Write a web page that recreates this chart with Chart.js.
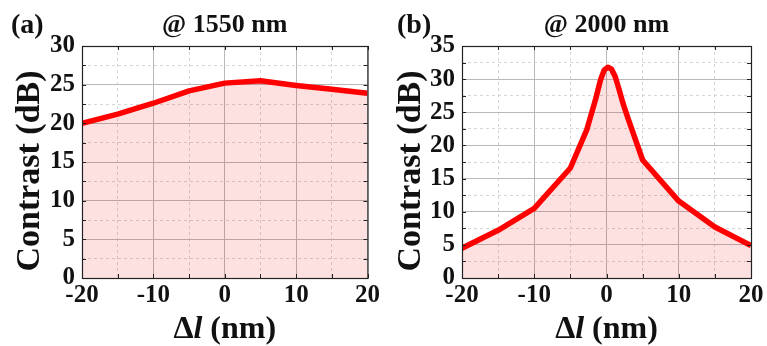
<!DOCTYPE html>
<html>
<head>
<meta charset="utf-8">
<script src="https://cdn.jsdelivr.net/npm/chart.js@4"></script>
<style>
  html, body { margin: 0; padding: 0; background: #fff; }
  .wrap { display: flex; width: 767px; height: 346px; }
  canvas { display: block; }
</style>
</head>
<body>
<div class="wrap">
  <canvas id="chartA" width="383" height="346"></canvas>
  <canvas id="chartB" width="384" height="346"></canvas>
</div>
<script>
// panel (a) @ 1550 nm
const deltaA = [-20, -15, -10, -5, 0, 5, 10, 15, 20];
const contrastA = [20.0, 21.2, 22.6, 24.2, 25.2, 25.5, 24.9, 24.4, 23.9];

// panel (b) @ 2000 nm
const deltaB = [-20, -15, -10, -5, -2.75, -1.5, -0.8, -0.3, 0.2, 0.7, 1.2, 1.7, 2.3, 3, 5, 10, 15, 20];
const contrastB = [4.5, 7.2, 10.5, 16.6, 22.3, 27.0, 30.0, 31.4, 31.8, 31.5, 30.4, 28.6, 26.3, 24.0, 17.8, 11.6, 7.7, 4.9];

const xTicks = [-20, -10, 0, 10, 20];
const yTicksA = [0, 5, 10, 15, 20, 25, 30];
const yTicksB = [0, 5, 10, 15, 20, 25, 30, 35];

const serif = "'Liberation Serif', 'Times New Roman', serif";

// frame, inner tick marks and the panel texts
const framePlugin = {
    id: 'frame',
    afterDatasetsDraw(chart, args, opts) {
        const ctx = chart.ctx;
        const a = chart.chartArea;
        const xs = chart.scales.x, ys = chart.scales.y;
        ctx.save();
        ctx.strokeStyle = '#222';
        ctx.lineWidth = 1;
        // inner ticks
        ctx.beginPath();
        xs.ticks.forEach(t => {
            const px = Math.round(xs.getPixelForValue(t.value)) + 0.5;
            ctx.moveTo(px, a.top); ctx.lineTo(px, a.top + 4);
            ctx.moveTo(px, a.bottom); ctx.lineTo(px, a.bottom - 4);
        });
        ys.ticks.forEach(t => {
            const py = Math.round(ys.getPixelForValue(t.value)) + 0.5;
            ctx.moveTo(a.left, py); ctx.lineTo(a.left + 4, py);
            ctx.moveTo(a.right, py); ctx.lineTo(a.right - 4, py);
        });
        ctx.stroke();
        ctx.lineWidth = 1.2;
        ctx.strokeRect(a.left + 0.5, a.top + 0.5, a.right - a.left, a.bottom - a.top);

        // panel letter and title
        ctx.fillStyle = '#111';
        ctx.textBaseline = 'alphabetic';
        ctx.textAlign = 'left';
        ctx.font = 'bold 28px ' + serif;
        ctx.fillText(opts.letter, opts.letterX, 33);
        ctx.textAlign = 'center';
        ctx.font = 'bold 26px ' + serif;
        const cx = (a.left + a.right) / 2;
        ctx.fillText(opts.title, cx, 32);

        // y axis title
        ctx.save();
        ctx.translate(opts.yTitleX, 171);
        ctx.rotate(-Math.PI / 2);
        ctx.textBaseline = 'middle';
        ctx.font = 'bold 34px ' + serif;
        ctx.fillText('Contrast (dB)', 0, 0);
        ctx.restore();

        // x axis title: Δl (nm), l in italic
        ctx.textAlign = 'left';
        const parts = [['Δ', 'bold 32px '], ['l', 'italic bold 32px '], [' (nm)', 'bold 32px ']];
        let w = 0;
        parts.forEach(p => { ctx.font = p[1] + serif; w += ctx.measureText(p[0]).width; });
        let x = cx - w / 2;
        parts.forEach(p => {
            ctx.font = p[1] + serif;
            ctx.fillText(p[0], x, 338);
            x += ctx.measureText(p[0]).width;
        });
        ctx.restore();
    }
};

function makePanel(id, xs, ys, yMax, yLabels, leftW, rightPad, letter, letterX, title, yTitleX) {
    return new Chart(document.getElementById(id), {
        type: 'line',
        data: {
            datasets: [{
                data: xs.map((v, i) => ({ x: v, y: ys[i] })),
                borderColor: '#ff0000',
                backgroundColor: 'rgba(240, 0, 0, 0.12)',
                borderWidth: 5.5,
                pointRadius: 0,
                tension: 0,
                borderJoinStyle: 'round',
                fill: 'origin'
            }]
        },
        options: {
            responsive: false,
            animation: false,
            layout: { padding: { top: 46, right: rightPad, left: 0, bottom: 0 } },
            plugins: {
                legend: { display: false },
                tooltip: { enabled: false },
                frame: { letter: letter, letterX: letterX, title: title, yTitleX: yTitleX }
            },
            scales: {
                x: {
                    type: 'linear',
                    min: -20,
                    max: 20,
                    afterFit: s => { s.height = 68; },
                    ticks: {
                        stepSize: 5,
                        autoSkip: false,
                        maxRotation: 0,
                        padding: 3,
                        color: '#111',
                        font: { family: serif, size: 25, weight: 'bold' },
                        callback: v => xTicks.includes(v) ? String(v) : ''
                    },
                    grid: {
                        drawTicks: false,
                        color: c => (c.tick && c.tick.value % 10 === 0) ? '#b8b8b8' : '#d6d6d6',
                        lineWidth: 1
                    },
                    border: {
                        display: false,
                        dash: c => (c.tick && c.tick.value % 10 === 0) ? [] : [3, 3]
                    }
                },
                y: {
                    min: 0,
                    max: yMax,
                    afterFit: s => { s.width = leftW; },
                    ticks: {
                        stepSize: 2.5,
                        autoSkip: false,
                        padding: 7,
                        color: '#111',
                        font: { family: serif, size: 25, weight: 'bold' },
                        callback: v => yLabels.includes(v) ? String(v) : ''
                    },
                    grid: {
                        drawTicks: false,
                        color: c => (c.tick && c.tick.value % 5 === 0) ? '#b8b8b8' : '#d6d6d6',
                        lineWidth: 1
                    },
                    border: {
                        display: false,
                        dash: c => (c.tick && c.tick.value % 5 === 0) ? [] : [3, 3]
                    }
                }
            }
        },
        plugins: [framePlugin]
    });
}

makePanel('chartA', deltaA, contrastA, 30, yTicksA, 82, 12, '(a)', 11, '@ 1550 nm', 30);
makePanel('chartB', deltaB, contrastB, 35, yTicksB, 79, 16, '(b)', 14, '@ 2000 nm', 28);
</script>
</body>
</html>
